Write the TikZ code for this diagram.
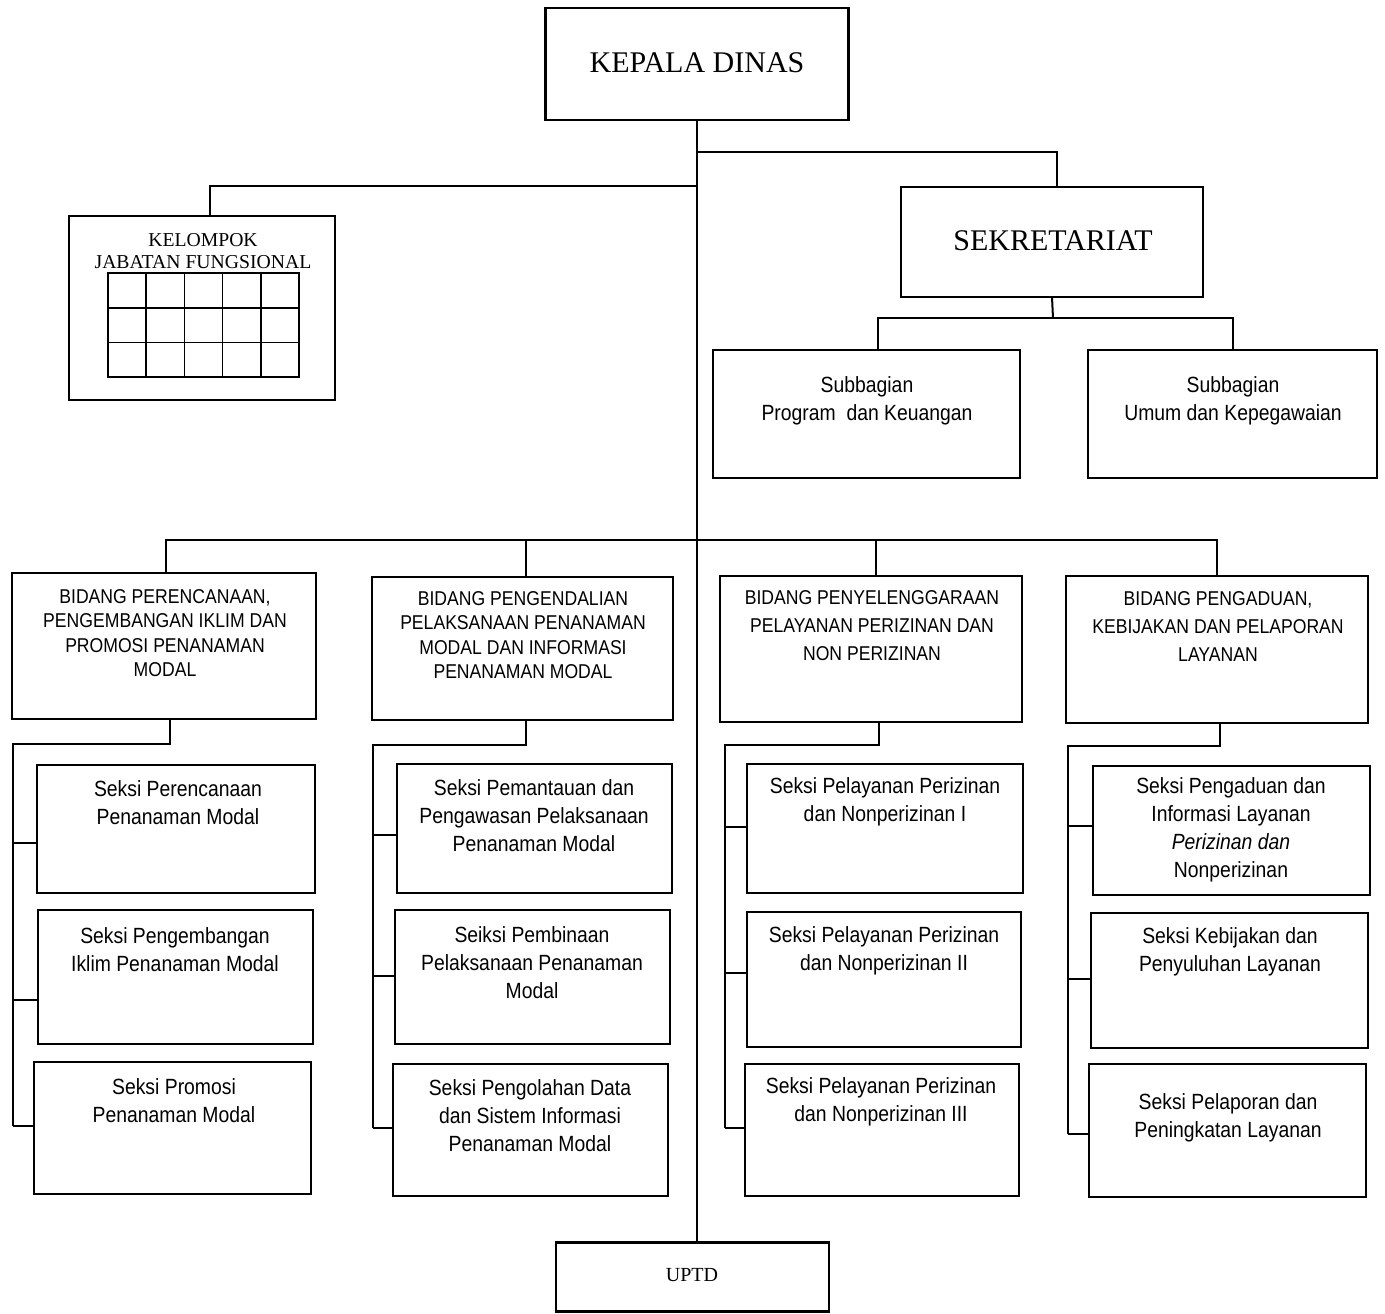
\documentclass[tikz,border=0pt]{standalone}
\usepackage{fontspec}
\setmainfont{Liberation Serif}
\newfontfamily\nar[FakeStretch=0.88]{Liberation Sans}
\usetikzlibrary{calc}
\begin{document}
\begin{tikzpicture}[x=1pt,y=-1pt,
  box/.style={draw, line width=2.2pt, inner sep=0pt, outer sep=0pt},
  lbl/.style={align=center, inner sep=0pt},
  ln/.style={line width=2pt},
  serifbig/.style={lbl, font=\fontsize{30}{36}\selectfont},
  seksi/.style={lbl, font=\nar\fontsize{22}{28}\selectfont},
  bidA/.style={lbl, font=\nar\fontsize{20}{24.3}\selectfont},
  bidB/.style={lbl, font=\nar\fontsize{20}{28}\selectfont}]
\useasboundingbox (0,0) rectangle (1385,1314);
\fill[white] (0,0) rectangle (1385,1314);

% top level
\node[box, minimum width=303pt, minimum height=112pt] (kd) at (697,64) {};
\node[serifbig] (kdt) at (697,63) {KEPALA DINAS};

\node[box, minimum width=302pt, minimum height=110pt] (sek) at (1052,242) {};
\node[serifbig] (sekt) at (1053,241) {SEKRETARIAT};

\node[box, minimum width=266pt, minimum height=184pt] (kel) at (202,308) {};
\node[lbl, font=\fontsize{19.7}{22}\selectfont] (kelt) at (203,251) {KELOMPOK\\JABATAN FUNGSIONAL};
\draw[line width=1.6pt] (108,273) rectangle (299,377);
\foreach \gx in {146.2,184.4,222.6,260.8} \draw[line width=1.6pt] (\gx,273) -- (\gx,377);
\foreach \gy in {307.7,342.3} \draw[line width=1.6pt] (108,\gy) -- (299,\gy);

\node[box, minimum width=307pt, minimum height=128pt] (sub1) at (866.5,414) {};
\node[seksi] (sub1t) at (867,401) {Subbagian\\Program~ dan Keuangan};
\node[box, minimum width=289pt, minimum height=128pt] (sub2) at (1232.5,414) {};
\node[seksi] (sub2t) at (1233,401) {Subbagian\\Umum dan Kepegawaian};

\node[box, minimum width=273pt, minimum height=69pt] (uptd) at (692.5,1277) {};
\node[lbl, font=\fontsize{20}{24}\selectfont] (uptdt) at (692,1275) {UPTD};

% bidang
\node[box, minimum width=304pt, minimum height=146pt] (b1) at (164,646) {};
\node[bidA] (b1t) at (165,633) {BIDANG PERENCANAAN,\\PENGEMBANGAN IKLIM DAN\\PROMOSI PENANAMAN\\MODAL};
\node[box, minimum width=301pt, minimum height=143pt] (b2) at (522.5,648.5) {};
\node[bidA] (b2t) at (523,635) {BIDANG PENGENDALIAN\\PELAKSANAAN PENANAMAN\\MODAL DAN INFORMASI\\PENANAMAN MODAL};
\node[box, minimum width=302pt, minimum height=146pt] (b3) at (871,649) {};
\node[bidB] (b3t) at (872,626) {BIDANG PENYELENGGARAAN\\PELAYANAN PERIZINAN DAN\\NON PERIZINAN};
\node[box, minimum width=302pt, minimum height=147pt] (b4) at (1217,649.5) {};
\node[bidB] (b4t) at (1218,627) {BIDANG PENGADUAN,\\KEBIJAKAN DAN PELAPORAN\\LAYANAN};

% seksi column 1
\node[box, minimum width=278pt, minimum height=128pt] (s11) at (176,829) {};
\node[seksi] (s11t) at (178,803) {Seksi Perencanaan\\Penanaman Modal};
\node[box, minimum width=275pt, minimum height=134pt] (s12) at (175.5,977) {};
\node[seksi] (s12t) at (175,950) {Seksi Pengembangan\\Iklim Penanaman Modal};
\node[box, minimum width=277pt, minimum height=132pt] (s13) at (172.5,1128) {};
\node[seksi] (s13t) at (174,1101) {Seksi Promosi\\Penanaman Modal};
% column 2
\node[box, minimum width=275pt, minimum height=129pt] (s21) at (534.5,828.5) {};
\node[seksi] (s21t) at (534,816) {Seksi Pemantauan dan\\Pengawasan Pelaksanaan\\Penanaman Modal};
\node[box, minimum width=275pt, minimum height=134pt] (s22) at (532.5,977) {};
\node[seksi] (s22t) at (532,963) {Seiksi Pembinaan\\Pelaksanaan Penanaman\\Modal};
\node[box, minimum width=275pt, minimum height=132pt] (s23) at (530.5,1130) {};
\node[seksi] (s23t) at (530,1116) {Seksi Pengolahan Data\\dan Sistem Informasi\\Penanaman Modal};
% column 3
\node[box, minimum width=276pt, minimum height=129pt] (s31) at (885,828.5) {};
\node[seksi] (s31t) at (885,802) {Seksi Pelayanan Perizinan\\dan Nonperizinan I};
\node[box, minimum width=274pt, minimum height=135pt] (s32) at (884,979.5) {};
\node[seksi] (s32t) at (884,951) {Seksi Pelayanan Perizinan\\dan Nonperizinan II};
\node[box, minimum width=274pt, minimum height=132pt] (s33) at (882,1130) {};
\node[seksi] (s33t) at (881,1102) {Seksi Pelayanan Perizinan\\dan Nonperizinan III};
% column 4
\node[box, minimum width=277pt, minimum height=129pt] (s41) at (1231.5,830.5) {};
\node[seksi] (s41t) at (1231,830) {Seksi Pengaduan dan\\Informasi Layanan\\\textit{Perizinan dan}\\Nonperizinan};
\node[box, minimum width=277pt, minimum height=135pt] (s42) at (1229.5,980.5) {};
\node[seksi] (s42t) at (1230,952) {Seksi Kebijakan dan\\Penyuluhan Layanan};
\node[box, minimum width=277pt, minimum height=133pt] (s43) at (1227.5,1130.5) {};
\node[seksi] (s43t) at (1228,1118) {Seksi Pelaporan dan\\Peningkatan Layanan};

% connectors
\coordinate (j1) at (697,152);
\coordinate (j2) at (697,186);
\coordinate (j4) at (697,540);
\draw[ln] (kd.south) -- (kd.south |- uptd.north);
\draw[ln] (j1) -| ([xshift=5pt]sek.north);
\draw[ln] (j2) -| ([xshift=8pt]kel.north);
\coordinate (j3) at (1053,318);
\draw[ln] (sek.south) -- (j3);
\draw[ln] (j3) -| ([xshift=11pt]sub1.north);
\draw[ln] (j3) -| (sub2.north);
\draw[ln] ([xshift=2pt]b1.north) |- (j4) -| (b4.north);
\draw[ln] (j4) -| ([xshift=3.5pt]b2.north);
\draw[ln] (j4) -| ([xshift=5pt]b3.north);

% column 1 links
\coordinate (t1) at (13,744);
\coordinate (k11) at (13,843);
\coordinate (k12) at (13,1000);
\coordinate (k13) at (13,1126);
\draw[ln] ([xshift=6pt]b1.south) |- (t1) -- (k13);
\draw[ln] (k11) -- (k11 -| s11.west);
\draw[ln] (k12) -- (k12 -| s12.west);
\draw[ln] (k13) -- (k13 -| s13.west);
% column 2 links
\coordinate (t2) at (373,745);
\coordinate (k21) at (373,835);
\coordinate (k22) at (373,976);
\coordinate (k23) at (373,1128);
\draw[ln] ([xshift=3.5pt]b2.south) |- (t2) -- (k23);
\draw[ln] (k21) -- (k21 -| s21.west);
\draw[ln] (k22) -- (k22 -| s22.west);
\draw[ln] (k23) -- (k23 -| s23.west);
% column 3 links
\coordinate (t3) at (725,745);
\coordinate (k31) at (725,827);
\coordinate (k32) at (725,973);
\coordinate (k33) at (725,1128);
\draw[ln] ([xshift=8pt]b3.south) |- (t3) -- (k33);
\draw[ln] (k31) -- (k31 -| s31.west);
\draw[ln] (k32) -- (k32 -| s32.west);
\draw[ln] (k33) -- (k33 -| s33.west);
% column 4 links
\coordinate (t4) at (1068,746);
\coordinate (k41) at (1068,826);
\coordinate (k42) at (1068,979);
\coordinate (k43) at (1068,1134);
\draw[ln] ([xshift=3pt]b4.south) |- (t4) -- (k43);
\draw[ln] (k41) -- (k41 -| s41.west);
\draw[ln] (k42) -- (k42 -| s42.west);
\draw[ln] (k43) -- (k43 -| s43.west);
\end{tikzpicture}
\end{document}
